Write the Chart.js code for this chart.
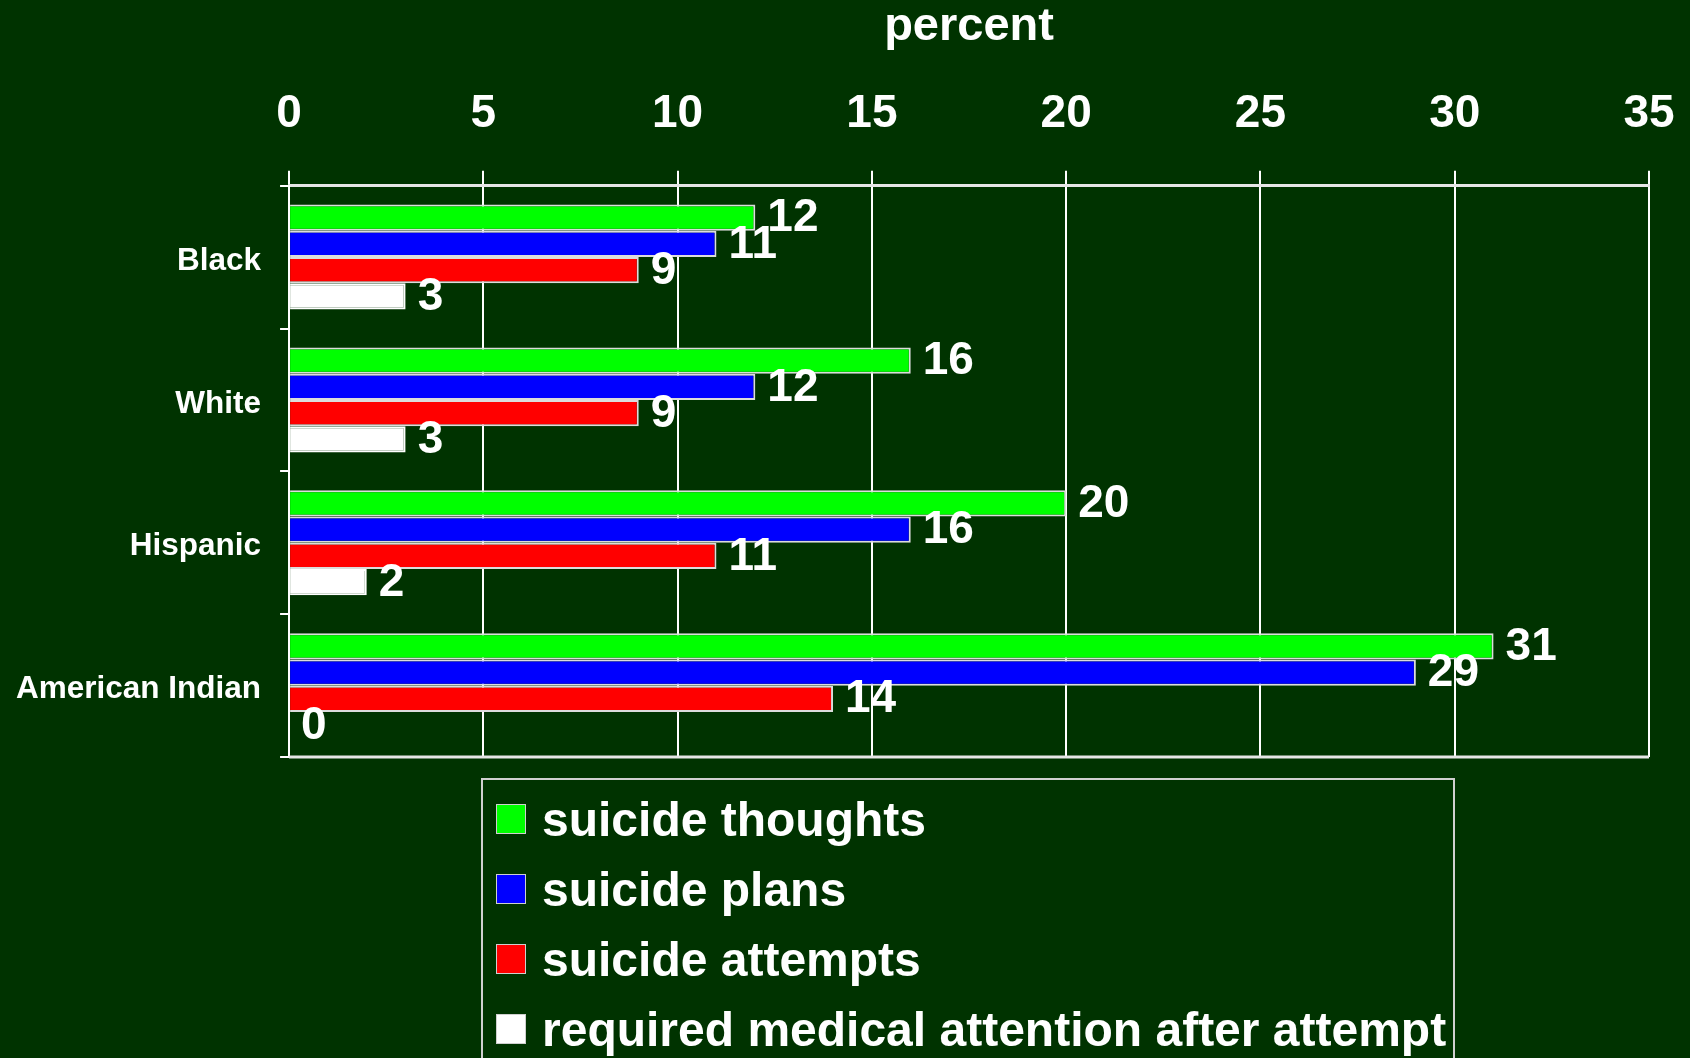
<!DOCTYPE html>
<html>
<head>
<meta charset="utf-8">
<script src="https://cdn.jsdelivr.net/npm/chart.js@4.4.0/dist/chart.umd.min.js"></script>
<style>
  html, body { margin: 0; padding: 0; background: #003300; overflow: hidden; }
  #wrap { position: absolute; left: 0; top: 0; width: 1690px; height: 795px; }
  #legend {
    position: absolute; left: 481px; top: 778px; width: 974px; height: 320px;
    box-sizing: border-box; border: 2px solid #d0d0d0; padding-top: 4px;
    font-family: "Liberation Sans", Arial, sans-serif; font-weight: bold;
    font-size: 48px; color: #fff;
  }
  .item { display: flex; align-items: center; height: 70px; white-space: nowrap; }
  .swatch {
    width: 30px; height: 30px; box-sizing: border-box; border: 1px solid #cfcfcf;
    margin-left: 13px; margin-right: 16px;
  }
</style>
</head>
<body>
<div id="wrap"><canvas id="chart"></canvas></div>
<div id="legend"></div>
<script>
// groups down the y axis
const groups = ['Black', 'White', 'Hispanic', 'American Indian'];

// percent per group
const thoughts = [12, 16, 20, 31];
const plans = [11, 12, 16, 29];
const attempts = [9, 9, 11, 14];
const medical = [3, 3, 2, 0];

const seriesNames = ['suicide thoughts', 'suicide plans', 'suicide attempts', 'required medical attention after attempt'];
const seriesColors = ['#00ff00', '#0000ff', '#ff0000', '#ffffff'];
const seriesBorders = ['#dcdcdc', '#dcdcdc', '#dcdcdc', '#ffffff'];

// x axis 0..35 by 5
const xMin = 0;
const xMax = 35;
const xStep = 5;

Chart.defaults.font.family = '"Liberation Sans", Arial, sans-serif';

// numbers at the end of each bar
const valueLabels = {
  id: 'valueLabels',
  afterDatasetsDraw(chart) {
    const ctx = chart.ctx;
    ctx.save();
    ctx.font = 'bold 46px "Liberation Sans", Arial, sans-serif';
    ctx.fillStyle = '#fff';
    ctx.textAlign = 'left';
    ctx.textBaseline = 'middle';
    chart.data.datasets.forEach((ds, i) => {
      chart.getDatasetMeta(i).data.forEach((bar, j) => {
        ctx.fillText(ds.data[j], bar.x + 12, bar.y + 1);
      });
    });
    ctx.restore();
  }
};

// closing line under the plot area
const bottomFrame = {
  id: 'bottomFrame',
  afterDraw(chart) {
    const { ctx, chartArea } = chart;
    ctx.save();
    ctx.strokeStyle = '#e6e6e6';
    ctx.lineWidth = 3;
    ctx.beginPath();
    ctx.moveTo(chartArea.left, chartArea.bottom);
    ctx.lineTo(chartArea.right, chartArea.bottom);
    ctx.stroke();
    ctx.restore();
  }
};

const seriesData = [thoughts, plans, attempts, medical];
const datasets = seriesData.map((data, i) => ({
  label: seriesNames[i],
  data,
  backgroundColor: seriesColors[i],
  borderColor: seriesBorders[i],
  borderWidth: 2
}));

const ctx = document.getElementById('chart');
const chart = new Chart(ctx, {
  type: 'bar',
  data: { labels: groups, datasets },
  options: {
    indexAxis: 'y',
    responsive: true,
    maintainAspectRatio: false,
    animation: false,
    layout: { padding: { left: -3, right: 41, top: 0, bottom: 0 } },
    datasets: { bar: { categoryPercentage: 0.735, barPercentage: 1 } },
    plugins: {
      legend: { display: false },
      tooltip: { enabled: false }
    },
    scales: {
      x: {
        position: 'top',
        min: xMin,
        max: xMax,
        // tall line height keeps the labels well above the tick marks
        ticks: { stepSize: xStep, color: '#fff', padding: 0, font: { size: 46, weight: 'bold', lineHeight: 2.452 } },
        grid: { color: '#fff', lineWidth: 2, tickLength: 15 },
        border: { display: true, color: '#e6e6e6', width: 3 },
        title: {
          display: true,
          text: 'percent',
          color: '#fff',
          font: { size: 47, weight: 'bold', lineHeight: 1.05 },
          padding: { top: 2.5, bottom: 6 }
        }
      },
      y: {
        ticks: { color: '#fff', padding: 19, labelOffset: 4, font: { size: 31.5, weight: 'bold' } },
        grid: { drawOnChartArea: false, color: '#fff', lineWidth: 2, tickLength: 9 },
        border: { display: true, color: '#fff', width: 2 }
      }
    }
  },
  plugins: [valueLabels, bottomFrame]
});

// legend as one column in a framed box
const legendBox = document.getElementById('legend');
Chart.defaults.plugins.legend.labels.generateLabels(chart).forEach(item => {
  const row = document.createElement('div');
  row.className = 'item';
  const sw = document.createElement('span');
  sw.className = 'swatch';
  sw.style.background = item.fillStyle;
  const txt = document.createElement('span');
  txt.textContent = item.text;
  row.appendChild(sw);
  row.appendChild(txt);
  legendBox.appendChild(row);
});
</script>
</body>
</html>
